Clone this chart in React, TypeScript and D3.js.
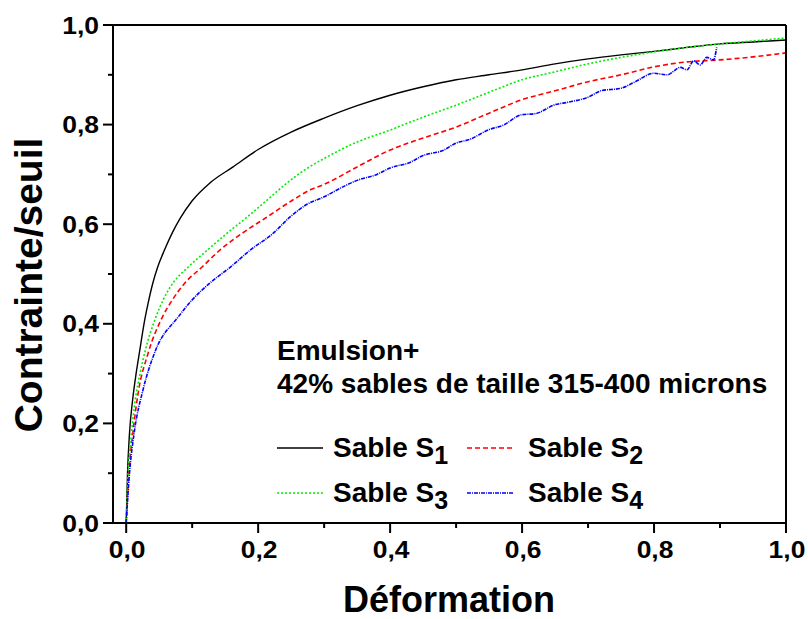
import React from "react";
import * as d3 from "d3";

const s1X = [0, 0.002, 0.005, 0.01, 0.015, 0.021, 0.027, 0.033, 0.04, 0.048, 0.058, 0.07, 0.082, 0.1, 0.127, 0.162, 0.2, 0.25, 0.3, 0.35, 0.4, 0.45, 0.5, 0.55, 0.6, 0.65, 0.7, 0.75, 0.8, 0.85, 0.9, 0.95, 1.0];
const s1Y = [0, 0.1, 0.18, 0.25, 0.3, 0.35, 0.4, 0.44, 0.48, 0.515, 0.548, 0.583, 0.612, 0.647, 0.683, 0.715, 0.75, 0.785, 0.813, 0.838, 0.859, 0.876, 0.89, 0.9, 0.91, 0.922, 0.932, 0.94, 0.947, 0.955, 0.962, 0.966, 0.97];

const s2X = [0, 0.004, 0.01, 0.018, 0.033, 0.055, 0.07, 0.089, 0.115, 0.142, 0.176, 0.213, 0.253, 0.279, 0.3, 0.35, 0.4, 0.45, 0.5, 0.55, 0.6, 0.65, 0.7, 0.75, 0.8, 0.85, 0.9, 0.95, 1.0];
const s2Y = [0, 0.1, 0.18, 0.26, 0.34, 0.414, 0.448, 0.482, 0.514, 0.548, 0.582, 0.614, 0.649, 0.669, 0.68, 0.715, 0.749, 0.773, 0.795, 0.823, 0.85, 0.868, 0.886, 0.9, 0.916, 0.926, 0.93, 0.936, 0.944];

const s3X = [0, 0.003, 0.008, 0.014, 0.021, 0.029, 0.044, 0.056, 0.071, 0.094, 0.123, 0.153, 0.183, 0.214, 0.244, 0.274, 0.3, 0.35, 0.4, 0.45, 0.5, 0.55, 0.6, 0.65, 0.7, 0.75, 0.8, 0.85, 0.9, 0.95, 1.0];
const s3Y = [0, 0.1, 0.18, 0.25, 0.3, 0.347, 0.41, 0.448, 0.482, 0.514, 0.548, 0.582, 0.614, 0.649, 0.683, 0.712, 0.732, 0.765, 0.789, 0.815, 0.839, 0.865, 0.89, 0.906, 0.922, 0.935, 0.946, 0.955, 0.962, 0.968, 0.974];

const s4X = [0, 0.005, 0.012, 0.026, 0.044, 0.079, 0.1, 0.127, 0.158, 0.188, 0.223, 0.248, 0.274, 0.3, 0.33, 0.35, 0.38, 0.4, 0.43, 0.45, 0.48, 0.5, 0.52, 0.55, 0.57, 0.6, 0.62, 0.65, 0.67, 0.7, 0.72, 0.75, 0.77, 0.8, 0.82, 0.84, 0.85, 0.86, 0.87, 0.88, 0.89, 0.895];
const s4Y = [0, 0.1, 0.18, 0.27, 0.345, 0.414, 0.448, 0.482, 0.514, 0.548, 0.582, 0.614, 0.64, 0.655, 0.676, 0.688, 0.7, 0.713, 0.724, 0.738, 0.748, 0.763, 0.77, 0.79, 0.798, 0.82, 0.822, 0.84, 0.845, 0.855, 0.868, 0.873, 0.885, 0.903, 0.9, 0.915, 0.91, 0.928, 0.92, 0.935, 0.93, 0.955];

const xTicks = [0, 0.2, 0.4, 0.6, 0.8, 1.0];
const xMinor = [0.1, 0.3, 0.5, 0.7, 0.9];
const yTicks = [0, 0.2, 0.4, 0.6, 0.8, 1.0];
const yMinor = [0.1, 0.3, 0.5, 0.7, 0.9];
const fmt = (v: number) => v.toFixed(1).replace(".", ",");

const series = [
  { name: "1", xs: s1X, ys: s1Y, color: "#000000", dash: "", width: 1.4 },
  { name: "2", xs: s2X, ys: s2Y, color: "#ff0000", dash: "5,3", width: 1.6 },
  { name: "3", xs: s3X, ys: s3Y, color: "#00ee00", dash: "2,2", width: 1.6 },
  { name: "4", xs: s4X, ys: s4Y, color: "#0000ff", dash: "4,1,1,1", width: 1.6 },
];

export default function App() {
  const L = 113, R = 786, T = 25, B = 523;
  const x = d3.scaleLinear().domain([-0.02, 1]).range([L, R]);
  const y = d3.scaleLinear().domain([0, 1]).range([B, T]);
  const line = d3.line<[number, number]>().x((d) => x(d[0])).y((d) => y(d[1])).curve(d3.curveMonotoneX);
  const font = "'Liberation Sans', Arial, sans-serif";
  const legendItems = [
    { s: series[0], lx: 277, ly: 448 },
    { s: series[1], lx: 467, ly: 448 },
    { s: series[2], lx: 277, ly: 493 },
    { s: series[3], lx: 467, ly: 493 },
  ];
  const sx = 1.15;
  return (
    <svg width={808} height={619} style={{ position: "absolute", left: 0, top: 0, background: "#fff" }} fontFamily={font} fontWeight="bold">
      <rect x={0} y={0} width={808} height={619} fill="#fff" />
      <defs>
        <clipPath id="clip">
          <rect x={L} y={T - 2} width={R - L} height={B - T + 2} />
        </clipPath>
      </defs>
      <g clipPath="url(#clip)">
        {series.map((s) => (
          <path
            key={s.name}
            d={line(s.xs.map((v, i) => [v, s.ys[i]] as [number, number])) || ""}
            fill="none"
            stroke={s.color}
            strokeWidth={s.width}
            strokeDasharray={s.dash || undefined}
          />
        ))}
      </g>
      <line x1={L} x2={R} y1={T} y2={T} stroke="#000" strokeWidth={2} />
      <line x1={R} x2={R} y1={T} y2={B} stroke="#000" strokeWidth={2} />
      <line x1={L} x2={L} y1={T} y2={B} stroke="#000" strokeWidth={2} />
      <line x1={L} x2={R} y1={B} y2={B} stroke="#000" strokeWidth={2} />
      {yTicks.map((t) => (
        <g key={"y" + t}>
          <line x1={L - 10} x2={L} y1={y(t)} y2={y(t)} stroke="#000" strokeWidth={2} />
          <text transform={`translate(99,${y(t) + 8.5}) scale(${sx},1)`} textAnchor="end" fontSize={23}>{fmt(t)}</text>
        </g>
      ))}
      {yMinor.map((t) => (
        <line key={"ym" + t} x1={L - 5} x2={L} y1={y(t)} y2={y(t)} stroke="#000" strokeWidth={2} />
      ))}
      {xTicks.map((t) => (
        <g key={"x" + t}>
          <line x1={x(t)} x2={x(t)} y1={B} y2={B + 10} stroke="#000" strokeWidth={2} />
          <text transform={`translate(${x(t) + 1},558) scale(${sx},1)`} textAnchor="middle" fontSize={23}>{fmt(t)}</text>
        </g>
      ))}
      {xMinor.map((t) => (
        <line key={"xm" + t} x1={x(t)} x2={x(t)} y1={B} y2={B + 5} stroke="#000" strokeWidth={2} />
      ))}
      <text x={449} y={612} textAnchor="middle" fontSize={36}>Déformation</text>
      <text transform="translate(42,285) rotate(-90)" textAnchor="middle" fontSize={39}>Contrainte/seuil</text>
      <text x={277} y={360} fontSize={28}>Emulsion+</text>
      <text x={277} y={393} fontSize={28}>42% sables de taille 315-400 microns</text>
      {legendItems.map(({ s, lx, ly }) => (
        <g key={"lg" + s.name}>
          <line x1={lx} x2={lx + 46} y1={ly} y2={ly} stroke={s.color} strokeWidth={s.width} strokeDasharray={s.dash || undefined} />
          <text x={lx + (lx > 400 ? 61 : 56)} y={ly + 9} fontSize={28}>
            Sable S<tspan fontSize={25} dy={7}>{s.name}</tspan>
          </text>
        </g>
      ))}
    </svg>
  );
}
